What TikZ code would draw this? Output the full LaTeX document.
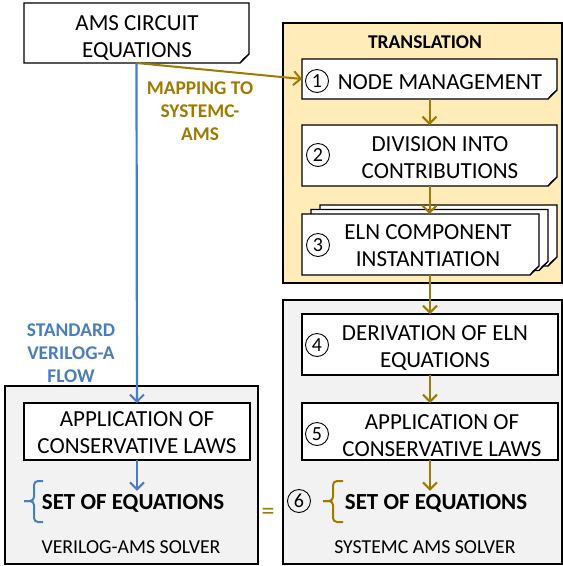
\documentclass[tikz,border=0pt]{standalone}
\usepackage{fontspec}
\setmainfont{Carlito}
\usetikzlibrary{arrows.meta,calc}
\definecolor{gold}{RGB}{160,122,0}
\definecolor{fblue}{RGB}{74,126,187}
\definecolor{tyellow}{RGB}{255,236,184}
\definecolor{sgray}{RGB}{242,242,242}
\tikzset{
  boxline/.style={draw=black, line width=1.3pt},
  container/.style={draw=black, line width=1.5pt, rectangle, inner sep=0pt, outer sep=0pt},
  shapebox/.style={rectangle, inner sep=0pt, outer sep=0pt, draw=none},
  plainbox/.style={rectangle, inner sep=0pt, outer sep=0pt, boxline, fill=white},
  txt/.style={font=\fontsize{23}{27}\selectfont, align=center, inner sep=0pt},
  numtxt/.style={circle, draw=black, line width=0.9pt, minimum size=23pt, inner sep=0pt, font=\fontsize{20}{20}\selectfont},
  settxt/.style={font=\bfseries\fontsize{23}{27}\selectfont, inner sep=0pt},
  soltxt/.style={font=\fontsize{19.8}{22}\selectfont, inner sep=0pt},
  flowlabel/.style={font=\bfseries\fontsize{19.4}{23}\selectfont, align=center, inner sep=0pt},
  garrow/.style={draw=gold, line width=2pt, -{Straight Barb[length=7pt,width=14pt,line width=2pt]}},
  barrow/.style={draw=fblue, line width=2.2pt, -{Straight Barb[length=7pt,width=14pt,line width=2pt]}},
  bracestyle/.style={line width=2pt, rounded corners=4pt},
}
\newcommand\docframe[1]{%
  \draw[boxline, fill=white] (#1.north west) -- (#1.north east) -- ([yshift=9pt]#1.south east) -- ([xshift=-9pt]#1.south east) -- (#1.south west) -- cycle;
  \draw[black, line width=0.8pt, fill=black!35] ([yshift=9pt]#1.south east) -- ([xshift=-6pt,yshift=4pt]#1.south east) -- ([xshift=-9pt]#1.south east) -- cycle;}
\begin{document}
\begin{tikzpicture}[x=1pt,y=-1pt]
\useasboundingbox (0,0) rectangle (563,566);
% containers
\node[container, fill=tyellow, minimum width=279pt, minimum height=260pt] (trans) at (422.5,153) {};
\node[container, fill=sgray, minimum width=279pt, minimum height=264pt] (scs) at (422.5,432) {};
\node[container, fill=sgray, minimum width=253pt, minimum height=178pt] (vs) at (131.5,475) {};
% boxes
\node[shapebox, minimum width=225pt, minimum height=60pt] (ams) at (136.5,33) {};
\docframe{ams}
\node[shapebox, minimum width=255pt, minimum height=40pt] (n1) at (429.5,79) {};
\docframe{n1}
\node[shapebox, minimum width=255pt, minimum height=61pt] (n2) at (429.5,155.5) {};
\docframe{n2}
\node[shapebox, minimum width=237pt, minimum height=61pt] (n3c) at (438.5,235.5) {};
\docframe{n3c}
\node[shapebox, minimum width=237pt, minimum height=61pt] (n3b) at (429.5,240) {};
\docframe{n3b}
\node[shapebox, minimum width=237pt, minimum height=61pt] (n3) at (420.5,244.5) {};
\docframe{n3}
\node[plainbox, minimum width=256pt, minimum height=61pt] (n4) at (430,344.5) {};
\node[plainbox, minimum width=256pt, minimum height=57pt] (n5) at (430,431.5) {};
\node[plainbox, minimum width=226pt, minimum height=57pt] (app) at (137,431.5) {};
% texts
\node[txt] (tams) at (137,38) {AMS CIRCUIT\\EQUATIONS};
\node[txt] (t1) at (440,82) {NODE MANAGEMENT};
\node[txt] (t2) at (440,158) {DIVISION INTO\\CONTRIBUTIONS};
\node[txt] (t3) at (428,246) {ELN COMPONENT\\INSTANTIATION};
\node[txt] (t4) at (435,348) {DERIVATION OF ELN\\EQUATIONS};
\node[txt] (t5) at (442,436) {APPLICATION OF\\CONSERVATIVE LAWS};
\node[txt] (tapp) at (137,433) {APPLICATION OF\\CONSERVATIVE LAWS};
\node[numtxt] (c1) at (317,81) {1};
\node[numtxt] (c2) at (318,155) {2};
\node[numtxt] (c3) at (318,245) {3};
\node[numtxt] (c4) at (317,345) {4};
\node[numtxt] (c5) at (317,434) {5};
\node[numtxt] (c6) at (299,501) {6};
\node[settxt] (set2) at (436,503) {SET OF EQUATIONS};
\node[settxt] (set1) at (133,503) {SET OF EQUATIONS};
\node[font=\bfseries\fontsize{19.5}{22}\selectfont, inner sep=0pt] (ttl) at (425,42) {TRANSLATION};
\node[soltxt] (sol2) at (425,547) {SYSTEMC AMS SOLVER};
\node[soltxt] (sol1) at (131,547) {VERILOG-AMS SOLVER};
\node[flowlabel, text=gold] (map) at (200,111) {MAPPING TO\\SYSTEMC-\\AMS};
\node[flowlabel, text=fblue] (std) at (71,353.5) {STANDARD\\VERILOG-A\\FLOW};
\node[text=gold, font=\fontsize{26}{26}\selectfont, inner sep=0pt] (eq) at (268,514) {=};
% braces
\draw[bracestyle, gold] (343,481) -| (333,501) -- (323,501);
\draw[bracestyle, gold] (343,522) -| (333,501) -- (323,501);
\draw[bracestyle, fblue] (43,481) -| (34,501) -- (24,501);
\draw[bracestyle, fblue] (43,522) -| (34,501) -- (24,501);
% connectors
\draw[barrow] (ams.south) -- (app.north);
\draw[garrow] (ams.south) -- (n1.west);
\draw[garrow] (n1.south) -- (n2.north);
\draw[garrow] (n2.south) -- (n2.south |- n3.north);
\draw[garrow] (n4.north |- n3.south) -- (n4.north);
\draw[garrow] (n4.south) -- (n5.north);
\draw[garrow] (n5.south) -- ([yshift=3pt]n5.south |- set2.north);
\draw[barrow] (app.south) -- ([yshift=3pt]app.south |- set1.north);
\end{tikzpicture}
\end{document}
